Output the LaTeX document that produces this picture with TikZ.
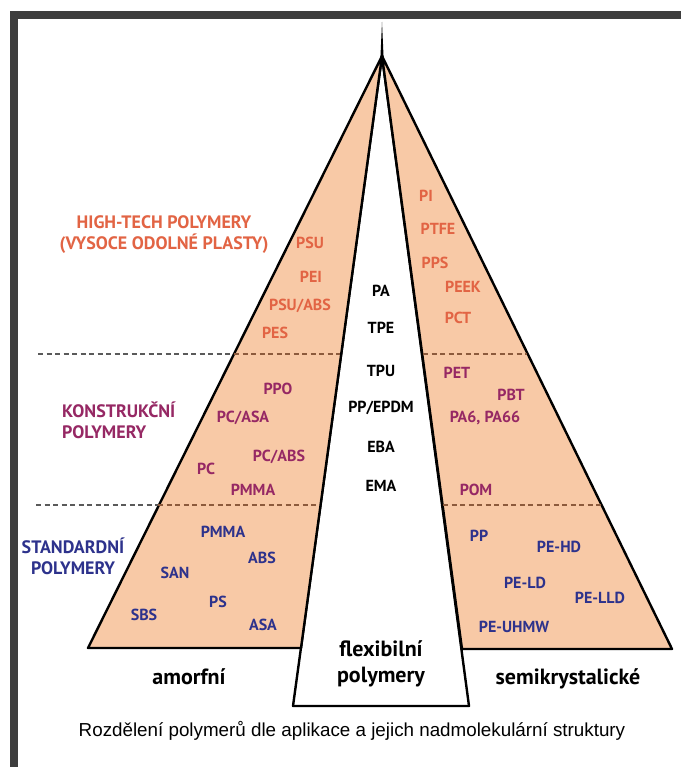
\documentclass[tikz,border=0pt]{standalone}
\usepackage{fontspec}
\setmainfont{PT Sans}
\newfontfamily\capfont{Liberation Sans}
\definecolor{peach}{RGB}{248,201,166}
\definecolor{frame}{RGB}{62,62,62}
\definecolor{htred}{RGB}{226,100,68}
\definecolor{komag}{RGB}{150,40,100}
\definecolor{stblue}{RGB}{45,50,140}
\definecolor{dashout}{RGB}{90,90,90}
\definecolor{dashin}{RGB}{140,90,60}
\begin{document}
\begin{tikzpicture}[x=1pt,y=-1pt,
  lbl/.style={inner sep=0pt, font=\fontsize{16}{19}\selectfont\bfseries},
  ht/.style={lbl, text=htred},
  ko/.style={lbl, text=komag},
  st/.style={lbl, text=stblue},
  fl/.style={lbl, text=black},
  head/.style={inner sep=0pt, font=\fontsize{18}{21}\selectfont\bfseries},
  big/.style={inner sep=0pt, font=\fontsize{22}{26}\selectfont\bfseries, align=center},
  edge/.style={line width=2.4pt, line join=round},
  dout/.style={draw=dashout, line width=1.1pt, dash pattern=on 5pt off 3.5pt},
  din/.style={draw=dashin, line width=1.1pt, dash pattern=on 5pt off 3.5pt}]
\useasboundingbox (0,0) rectangle (681,767);
\fill[white] (0,0) rectangle (681,767);
% frame
\fill[frame] (10,11) rectangle (681,19);
\fill[frame] (10,11) rectangle (18,767);
% geometry
\coordinate (J) at (382,56);
\coordinate (A) at (382,22);
\draw[edge, fill=white] (J) -- (293,706) -- (469,706) -- cycle;
\draw[edge, fill=peach] (J) -- (88,648) -- (301,648) -- cycle;
\draw[edge, fill=peach] (J) -- (462,649) -- (672,649) -- cycle;
\fill (380.3,60) -- (A) -- (383.7,60) -- cycle;
% dashed separators
\draw[dout] (38,354) -- (234,354);
\draw[din] (234,354) -- (340,354);
\draw[din] (423,354) -- (527,354);
\draw[dout] (36,505) -- (158,505);
\draw[din] (158,505) -- (319,505);
\draw[din] (443,505) -- (601,505);
% headings
\node[head, text=htred, align=center] (h1) at (164,235) {HIGH-TECH POLYMERY\\(VYSOCE ODOLNÉ PLASTY)};
\node[head, text=komag, align=left, anchor=west] (h2) at (62,420) {KONSTRUKČNÍ\\POLYMERY};
\node[head, text=stblue, align=center] (h3) at (73,556) {STANDARDNÍ\\POLYMERY};
% high-tech left
\node[ht] (psu) at (310,243) {PSU};
\node[ht] (pei) at (311,277) {PEI};
\node[ht] (psuabs) at (300,306) {PSU/ABS};
\node[ht] (pes) at (275,333) {PES};
% high-tech right
\node[ht] (pi) at (426,196) {PI};
\node[ht] (ptfe) at (438,229) {PTFE};
\node[ht] (pps) at (435,263) {PPS};
\node[ht] (peek) at (463,287) {PEEK};
\node[ht] (pct) at (458,318) {PCT};
% flexible centre
\node[fl] (pa) at (381,291) {PA};
\node[fl] (tpe) at (381,328) {TPE};
\node[fl] (tpu) at (381,371) {TPU};
\node[fl] (ppepdm) at (381,408) {PP/EPDM};
\node[fl] (eba) at (381,447) {EBA};
\node[fl] (ema) at (381,486) {EMA};
% konstrukcni left
\node[ko] (ppo) at (278,389) {PPO};
\node[ko] (pcasa) at (243,418) {PC/ASA};
\node[ko] (pcabs) at (279,457) {PC/ABS};
\node[ko] (pc) at (206,469) {PC};
\node[ko] (pmma1) at (253,490) {PMMA};
% konstrukcni right
\node[ko] (pet) at (457,373) {PET};
\node[ko] (pbt) at (511,395) {PBT};
\node[ko] (pa6) at (485,418) {PA6, PA66};
\node[ko] (pom) at (476,490) {POM};
% standard left
\node[st] (pmma2) at (223,532) {PMMA};
\node[st] (abs) at (262,558) {ABS};
\node[st] (san) at (175,573) {SAN};
\node[st] (ps) at (218,602) {PS};
\node[st] (sbs) at (144,615) {SBS};
\node[st] (asa) at (263,625) {ASA};
% standard right
\node[st] (pp) at (479,536) {PP};
\node[st] (pehd) at (559,547) {PE-HD};
\node[st] (peld) at (525,583) {PE-LD};
\node[st] (pelld) at (600,598) {PE-LLD};
\node[st] (peuhmw) at (514,627) {PE-UHMW};
% bottom labels
\node[big] (amorf) at (189,677) {amorfní};
\node[big] (flex) at (381,664) {flexibilní\\polymery};
\node[big] (semi) at (568,679) {semikrystalické};
% caption
\node[inner sep=0pt, font=\capfont\fontsize{18.8}{22}\selectfont] (cap) at (352,731) {Rozdělení polymerů dle aplikace a jejich nadmolekulární struktury};
\end{tikzpicture}
\end{document}
